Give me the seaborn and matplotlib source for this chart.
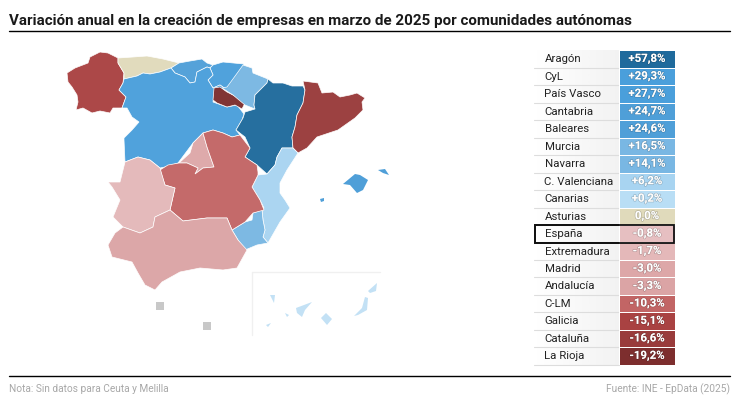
import numpy as np
import pandas as pd
import matplotlib
matplotlib.use('Agg')
import matplotlib.pyplot as plt
import matplotlib.patheffects as pe
from matplotlib.colors import ListedColormap, BoundaryNorm
from matplotlib.patches import Polygon, Rectangle
import seaborn as sns

sns.set_theme(style="white")
plt.rcParams['font.family'] = ['Roboto', 'DejaVu Sans']

# table data
regions = ['Aragón', 'CyL', 'País Vasco', 'Cantabria', 'Baleares', 'Murcia', 'Navarra',
           'C. Valenciana', 'Canarias', 'Asturias', 'España', 'Extremadura', 'Madrid',
           'Andalucía', 'C-LM', 'Galicia', 'Cataluña', 'La Rioja']
values = [57.8, 29.3, 27.7, 24.7, 24.6, 16.5, 14.1, 6.2, 0.2, 0.0, -0.8, -1.7, -3.0, -3.3,
          -10.3, -15.1, -16.6, -19.2]
cell_colors = ['#1f6a9c', '#4a9fdb', '#4a9fdb', '#4f9fd8', '#4f9fd8', '#79b7e3', '#79b7e3',
               '#a8d4f1', '#b9def5', '#e0dabb', '#e6bfc1', '#e4b8b9', '#dda7a8', '#dba4a5',
               '#c26565', '#a94242', '#993b3b', '#7d2e2e']

# map outlines (pixel units)
outlines = {
    'Galicia': [(67,73),(75,68),(88,63),(90,57),(100,52),(108,53),(118,58),(118,63),(124,73),(123,83),(119,90),(126,97),
                (122,108),(113,108),(110,113),(100,111),(92,113),(83,108),(76,110),(78,102),(77,95),(72,87),(68,82)],
    'Asturias': [(118,58),(133,57),(147,56),(163,59),(179,63),(171,68),(160,72),(150,74),(143,73),(137,76),(124,79),(124,73),(118,63)],
    'Cantabria': [(171,68),(179,63),(190,61),(202,59),(207,63),(213,65),(210,68),(207,67),(197,72),(195,82),(190,83),(185,77),(175,73)],
    'País Vasco': [(213,65),(223,62),(244,64),(240,73),(232,83),(227,90),(220,85),(213,88),(208,80),(213,75),(210,68)],
    'CyL': [(124,79),(137,76),(143,73),(150,74),(160,72),(171,68),(175,73),(185,77),(190,83),(195,82),(197,72),(207,67),(210,68),
            (213,75),(208,80),(213,88),(220,85),(227,90),(215,88),(213,102),(227,107),(237,105),(244,114),(242,120),(236,130),
            (240,135),(232,137),(223,133),(213,130),(203,133),(193,143),(178,163),(165,167),(160,168),(150,160),(138,157),(125,162),
            (124,140),(124,138),(132,130),(139,122),(132,117),(127,108),(122,108),(126,97),(119,90),(123,83)],
    'La Rioja': [(214,88),(220,87),(227,92),(237,97),(245,103),(242,109),(235,105),(227,107),(217,103),(213,100)],
    'Navarra': [(230,83),(238,72),(243,65),(252,68),(253,73),(268,79),(267,83),(255,95),(254,105),(255,109),(245,105),(233,95),(222,88),(227,87)],
    'Aragón': [(268,79),(273,83),(283,83),(292,86),(303,86),(305,90),(303,103),(297,115),(295,127),(292,137),(293,148),(282,148),
               (277,157),(275,165),(267,174),(257,165),(245,157),(250,148),(245,137),(236,130),(243,118),(245,112),(255,109),(254,105),(255,95),(267,83)],
    'Cataluña': [(303,81),(318,83),(322,93),(333,92),(340,97),(350,95),(357,93),(365,98),(362,102),(363,110),(355,118),(338,130),
                 (317,137),(307,148),(298,153),(293,148),(292,137),(295,127),(297,115),(303,103),(305,90)],
    'C. Valenciana': [(282,148),(293,148),(298,153),(287,170),(280,183),(280,193),(285,200),(290,208),(280,222),(268,243),(263,237),
                      (265,230),(263,220),(262,210),(264,208),(260,200),(252,187),(258,175),(267,174),(275,165),(277,157)],
    'Murcia': [(253,213),(262,210),(263,220),(265,230),(263,237),(268,243),(257,245),(245,250),(238,240),(232,230),(245,222),(252,220)],
    'Madrid': [(179,163),(190,153),(193,143),(203,133),(207,147),(214,167),(203,168),(195,174),(198,168),(187,163)],
    'C-LM': [(160,170),(168,165),(179,163),(187,163),(198,168),(195,174),(203,168),(214,167),(207,147),(203,133),(213,130),(223,133),
             (232,137),(240,135),(250,148),(245,157),(257,165),(258,172),(258,175),(252,187),(260,200),(264,210),(253,213),(245,222),
             (232,230),(227,218),(207,218),(183,221),(170,210),(175,188),(165,185)],
    'Extremadura': [(108,182),(120,182),(125,162),(138,157),(150,160),(160,168),(165,185),(175,188),(170,210),(155,217),(153,227),
                    (140,233),(123,227),(113,217),(120,200),(112,187)],
    'Andalucía': [(170,210),(183,221),(207,218),(227,218),(232,230),(238,240),(247,250),(237,268),(223,270),(200,268),(180,272),
                  (162,282),(155,290),(145,285),(138,273),(132,262),(112,257),(108,245),(115,233),(123,227),(140,233),(153,227),(155,217)],
}
baleares_islands = [
    [(343,184),(355,174),(360,175),(368,180),(363,190),(357,193),(350,185)],
    [(378,170),(385,169),(389,175),(383,173)],
    [(320,199),(324,198),(324,201),(321,202)],
]
canarias_islands = [
    [(270,295),(275,295),(274,303)],
    [(285,313),(289,315),(287,317)],
    [(266,325),(271,323),(268,327)],
    [(296,308),(312,302),(305,310),(302,317),(297,313)],
    [(321,318),(326,313),(332,319),(327,325)],
    [(354,316),(362,308),(365,297),(368,298),(367,310),(358,315)],
    [(368,291),(377,283),(376,291),(370,293)],
]
no_data = [(156,302), (203,322)]

# binned colour scale, one bin around each value
ordered = np.array(values[::-1])
edges = np.concatenate([[ordered[0] - 1], (ordered[1:] + ordered[:-1]) / 2, [ordered[-1] + 1]])
cmap = ListedColormap(cell_colors[::-1])
norm = BoundaryNorm(edges, cmap.N)
color_of = dict(zip(regions, [cmap(norm(v)) for v in values]))

W, H = 740, 408
fig = plt.figure(figsize=(W / 100, H / 100), dpi=100)
bg = fig.add_axes([0, 0, 1, 1])
bg.set_xlim(0, W)
bg.set_ylim(H, 0)
bg.axis('off')

# ========== Map ==========
for name, pts in outlines.items():
    bg.add_patch(Polygon(pts, closed=True, fc=color_of[name], ec='white', lw=0.5, alpha=0.97))
for pts in baleares_islands:
    bg.add_patch(Polygon(pts, closed=True, fc=color_of['Baleares'], ec='none'))
for pts in canarias_islands:
    bg.add_patch(Polygon(pts, closed=True, fc='#c3e1f5', ec='none'))
for x, y in no_data:
    bg.add_patch(Rectangle((x, y), 8, 8, fc='#c8c8c8', ec='none'))
bg.plot([252, 252, 380], [335, 272, 272], color='#f0f0f0', lw=1)

# ========== Table ==========
row_h = 17.47
top = 50.3
gradient = np.linspace(0, 1, 64).reshape(1, -1)
bg.imshow(gradient, extent=(534, 619, top + row_h * 18, top), aspect='auto', cmap='Greys',
          vmin=0, vmax=9.5, zorder=1)
bg.set_xlim(0, W)
bg.set_ylim(H, 0)

for i, name in enumerate(regions):
    y = top + row_h * (i + 0.5)
    x = 545 if name == 'España' else 544.5
    bg.text(x, y + 0.3, name, ha='left', va='center', fontsize=8.2, color='#222222', zorder=3)
    bg.plot([534, 619], [top + row_h * (i + 1)] * 2, color='#dddddd', lw=0.8, zorder=2)

df = pd.DataFrame({'valor': values}, index=regions)
labels = np.array([f'{v:+.1f}%'.replace('.', ',') for v in values]).reshape(-1, 1)
labels[9, 0] = '0,0%'
cell_ax = fig.add_axes([619 / W, 1 - (top + row_h * 18) / H, 56 / W, row_h * 18 / H])
sns.heatmap(df, ax=cell_ax, cmap=cmap, norm=norm, cbar=False, annot=labels, fmt='',
            linewidths=0.6, linecolor='white', xticklabels=False, yticklabels=False,
            annot_kws={'fontsize': 8.2, 'fontweight': 'bold', 'color': 'white',
                       'path_effects': [pe.withStroke(linewidth=1.0, foreground='#00000030')]})
cell_ax.set_ylabel('')

# spain row box
bg.add_patch(Rectangle((535, top + row_h * 10), 139, row_h + 0.6, fc='none', ec='#111111', lw=1.3, zorder=6))
box_ax = fig.add_axes([0, 0, 1, 1], facecolor='none')
box_ax.set_xlim(0, W)
box_ax.set_ylim(H, 0)
box_ax.axis('off')
box_ax.add_patch(Rectangle((535, top + row_h * 10), 139, row_h + 0.6, fc='none', ec='#111111', lw=1.3))

# ========== Title and footer ==========
box_ax.text(9, 21, 'Variación anual en la creación de empresas en marzo de 2025 por comunidades autónomas',
            fontsize=10.9, fontweight='bold', color='#1a1a1a', ha='left', va='center')
box_ax.plot([9, 730], [31, 31], color='black', lw=1)
box_ax.plot([9, 730], [376, 376], color='black', lw=1)
box_ax.text(9, 389, 'Nota: Sin datos para Ceuta y Melilla', fontsize=7.3, color='#a8a8a8', ha='left', va='center')
box_ax.text(730, 389, 'Fuente: INE - EpData (2025)', fontsize=7.3, color='#a8a8a8', ha='right', va='center')

fig.savefig('out.png', dpi=100)
